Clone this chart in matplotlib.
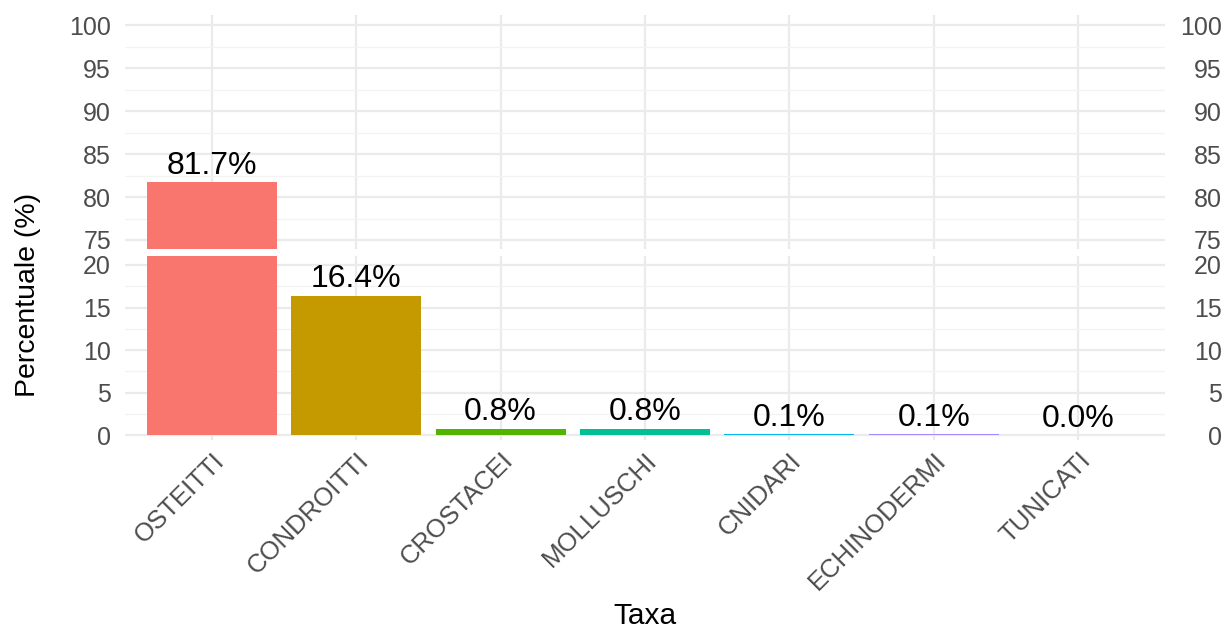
import numpy as np
import matplotlib.pyplot as plt
from matplotlib.ticker import MultipleLocator

plt.rcParams['font.family'] = ['Liberation Sans', 'DejaVu Sans']

taxa = ['OSTEITTI', 'CONDROITTI', 'CROSTACEI', 'MOLLUSCHI', 'CNIDARI', 'ECHINODERMI', 'TUNICATI']
perc = [81.7, 16.4, 0.8, 0.8, 0.1, 0.1, 0.0]
labels = ['81.7%', '16.4%', '0.8%', '0.8%', '0.1%', '0.1%', '0.0%']
colors = ['#F8766D', '#C49A00', '#53B400', '#00C094', '#00B6EB', '#A58AFF', '#FB61D7']

low_lim = (-0.55, 21.05)
high_lim = (73.95, 101.2)

fig = plt.figure(figsize=(12.25, 6.29), dpi=100)
W, H = 1225, 629
x0, x1 = 125 / W, 1165 / W
ax_hi = fig.add_axes([x0, 1 - 249 / H, x1 - x0, (249 - 15) / H])
ax_lo = fig.add_axes([x0, 1 - 440 / H, x1 - x0, (440 - 256) / H])

x = np.arange(1, len(taxa) + 1)
grey30 = '#4D4D4D'

for ax, lim, step in [(ax_hi, high_lim, 5), (ax_lo, low_lim, 5)]:
    ax.bar(x, perc, width=0.9, color=colors, zorder=2)
    ax.set_xlim(0.4, 7.6)
    ax.set_ylim(*lim)
    ax.yaxis.set_major_locator(MultipleLocator(step))
    ax.yaxis.set_minor_locator(MultipleLocator(step / 2))
    ax.set_xticks(x)
    ax.grid(True, which='major', color='#EBEBEB', lw=1.6, zorder=0)
    ax.grid(True, which='minor', axis='y', color='#F3F3F3', lw=0.9, zorder=0)
    ax.set_axisbelow(True)
    for s in ax.spines.values():
        s.set_visible(False)
    ax.tick_params(axis='both', which='both', length=0)
    ax.tick_params(axis='y', labelsize=18, labelcolor=grey30, pad=10)
    # right side labels
    tw = ax.twinx()
    tw.set_ylim(*lim)
    tw.yaxis.set_major_locator(MultipleLocator(step))
    for s in tw.spines.values():
        s.set_visible(False)
    tw.tick_params(axis='y', length=0, labelsize=18, labelcolor=grey30, pad=41)
    for lab in tw.get_yticklabels():
        lab.set_horizontalalignment('right')

ax_hi.set_yticks(np.arange(75, 101, 5))
ax_lo.set_yticks(np.arange(0, 21, 5))
ax_hi.tick_params(axis='x', labelbottom=False)
ax_lo.set_xticklabels(taxa, rotation=45, ha='right', va='top', rotation_mode='anchor',
                      fontsize=18.5, color=grey30)
ax_lo.tick_params(axis='x', pad=6)

for xi, v, lab in zip(x, perc, labels):
    ax = ax_hi if v > low_lim[1] else ax_lo
    ax.annotate(lab, (xi, v), xytext=(0, 1), textcoords='offset points',
                ha='center', va='bottom', fontsize=23, color='black', zorder=3)

fig.text(28 / W, 1 - 295 / H, 'Percentuale (%)', rotation=90, ha='center', va='center',
         fontsize=20.5, color='black')
fig.text(645 / W, 1 - 616 / H, 'Taxa', ha='center', va='center', fontsize=21.5, color='black')

fig.savefig('out.png', dpi=100, facecolor='white')
